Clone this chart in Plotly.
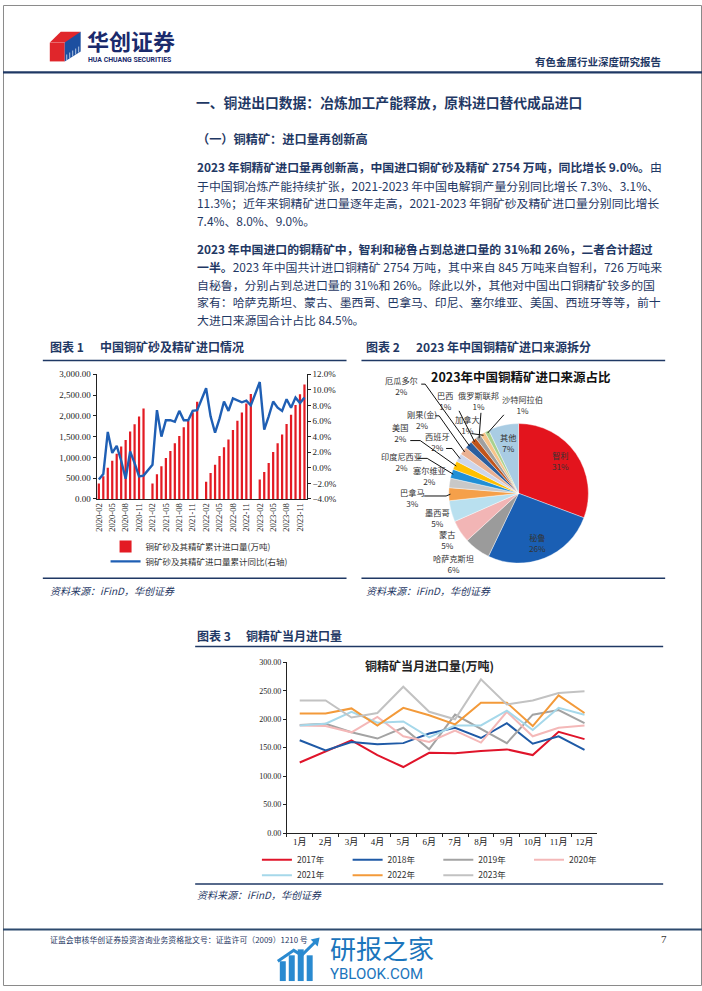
import math
import plotly.graph_objects as go

W, H = 702, 991
NAVY = "#1f3864"
CJK = "Noto Sans CJK SC"
SERIF = "Liberation Serif, Noto Sans CJK SC"

# ---------------- data: chart 1 ----------------
years1 = [2020, 2021, 2022, 2023]
cum_2020 = [370, 545, 750, 920, 1085, 1260, 1420, 1625, 1800, 1985, 2176]          # Feb..Dec
cum_2021 = [373, 595, 786, 984, 1151, 1341, 1516, 1722, 1881, 2079, 2340]
cum_2022 = [413, 627, 825, 1032, 1246, 1429, 1659, 1881, 2079, 2294, 2527]
cum_2023 = [468, 651, 865, 1127, 1341, 1548, 1802, 2024, 2262, 2516, 2754]
yoy_2020 = [-1.5, -0.8, 4.6, 1.9, 2.8, 0.9, -1.4, 2.1, 0.6, -1.1, -1.0]
yoy_2021 = [0.4, 7.4, 4.0, 6.1, 6.1, 5.9, 7.3, 6.1, 6.1, 7.3, 7.4]
yoy_2022 = [10.2, 6.6, 4.5, 6.3, 8.5, 7.3, 8.9, 8.7, 8.4, 8.6, 8.0]
yoy_2023 = [11.0, 4.9, 6.6, 8.5, 7.7, 7.3, 8.8, 7.7, 9.0, 8.3, 9.0]

months1 = []
cum_vals = []
yoy_vals = []
for yr, cv, yv in zip(years1, [cum_2020, cum_2021, cum_2022, cum_2023],
                      [yoy_2020, yoy_2021, yoy_2022, yoy_2023]):
    if yr != 2020:
        months1.append(f"{yr}-01")
        cum_vals.append(None)
        yoy_vals.append(None)
    for m in range(2, 13):
        months1.append(f"{yr}-{m:02d}")
    cum_vals.extend(cv)
    yoy_vals.extend(yv)
tick_months1 = months1[::3]

# ---------------- data: chart 2 ----------------
pie_labels = ["智利", "秘鲁", "哈萨克斯坦", "蒙古", "墨西哥", "巴拿马", "塞尔维亚", "印度尼西亚",
              "美国", "西班牙", "刚果(金)", "厄瓜多尔", "巴西", "俄罗斯联邦", "加拿大", "沙特阿拉伯", "其他"]
pie_values = [30.7, 26.4, 6.1, 5.2, 4.9, 3.0, 2.2, 2.1, 2.0, 1.9, 1.9, 1.7, 1.4, 1.3, 1.2, 1.0, 7.0]
pie_colors = ["#e3141d", "#1a5fb4", "#9b9b9b", "#f2b5b5", "#b9e0ef", "#f5a04a", "#c8c8c8", "#1f8fd6",
              "#ffc000", "#cdd6ec", "#eab092", "#2c5e9e", "#c0541c", "#a0a0a0", "#f7c48a", "#a9d18e", "#a9cce3"]

# ---------------- data: chart 3 ----------------
months3 = ["1月", "2月", "3月", "4月", "5月", "6月", "7月", "8月", "9月", "10月", "11月", "12月"]
series3_names = ["2017年", "2018年", "2019年", "2020年", "2021年", "2022年", "2023年"]
y2017 = [124, 143, 163, 137, 116, 141, 140, 144, 147, 137, 178, 165]
y2018 = [163, 145, 160, 156, 158, 175, 185, 167, 193, 157, 170, 146]
y2019 = [190, 192, 177, 166, 185, 147, 208, 183, 158, 208, 216, 193]
y2020 = [189, 188, 177, 204, 170, 160, 180, 159, 213, 170, 185, 189]
y2021 = [189, 192, 213, 194, 196, 168, 189, 189, 215, 181, 220, 208]
y2022 = [210, 210, 219, 189, 220, 207, 191, 229, 229, 188, 242, 211]
y2023 = [233, 233, 203, 211, 257, 213, 200, 270, 226, 233, 246, 249]
series3_values = [y2017, y2018, y2019, y2020, y2021, y2022, y2023]
series3_colors = ["#e0142a", "#1f5aa6", "#a3a3a3", "#f4b8b8", "#a6d8ea", "#f39a3a", "#c2c2c2"]


def P(x):
    return x / W


def Q(y):
    return 1 - y / H


fig = go.Figure()

# chart 1 traces
fig.add_trace(go.Bar(x=months1, y=cum_vals, name="铜矿砂及其精矿累计进口量(万吨)",
                     marker=dict(color="#e31b23", line=dict(width=0)), width=0.5,
                     xaxis="x", yaxis="y", legend="legend"))
fig.add_trace(go.Scatter(x=months1, y=yoy_vals, name="铜矿砂及其精矿进口量累计同比(右轴)",
                         mode="lines", line=dict(color="#1f5fb4", width=2.4), connectgaps=True,
                         xaxis="x", yaxis="y2", legend="legend4"))

# chart 2 pie
PIE_CX, PIE_CY, PIE_R = 517.8, 493.3, 70.5
fig.add_trace(go.Pie(labels=pie_labels, values=pie_values, sort=False, direction="clockwise",
                     rotation=0, marker=dict(colors=pie_colors, line=dict(color="white", width=0.4)),
                     textinfo="none", showlegend=False,
                     domain=dict(x=[P(PIE_CX - PIE_R), P(PIE_CX + PIE_R)],
                                 y=[Q(PIE_CY + PIE_R), Q(PIE_CY - PIE_R)])))

# chart 3 lines
for i, (nm, vals, col) in enumerate(zip(series3_names, series3_values, series3_colors)):
    fig.add_trace(go.Scatter(x=months3, y=vals, name=nm, mode="lines",
                             line=dict(color=col, width=2), xaxis="x3", yaxis="y3",
                             legend="legend2" if i < 4 else "legend3"))

tickfont = dict(family=SERIF, size=9, color="#222")
fig.update_layout(
    width=W, height=H, margin=dict(l=0, r=0, t=0, b=0),
    paper_bgcolor="white", plot_bgcolor="white",
    xaxis=dict(domain=[P(94), P(305)], anchor="y", type="category", categoryorder="array",
               categoryarray=months1, tickvals=tick_months1, tickangle=-90, range=[-0.5, len(months1) - 0.5],
               showline=True, linecolor="#222", linewidth=1, ticks="", showgrid=False,
               tickfont=dict(family=SERIF, size=8.5, color="#222")),
    yaxis=dict(domain=[Q(499), Q(373)], anchor="x", range=[0, 3000], dtick=500, tickformat=",.2f",
               showline=True, linecolor="#222", linewidth=1, ticks="outside", ticklen=3,
               tickcolor="#222", showgrid=False, zeroline=False, tickfont=tickfont),
    yaxis2=dict(overlaying="y", anchor="x", side="right", range=[-4, 12], dtick=2, tickformat=".1f",
                ticksuffix="%", showline=True, linecolor="#222", linewidth=1, ticks="outside", ticklen=3,
                tickcolor="#222", showgrid=False, zeroline=False, tickfont=tickfont),
    xaxis3=dict(domain=[P(285), P(597)], anchor="y3", type="category", categoryorder="array",
                categoryarray=months3, range=[-0.5, 11.5], tickson="boundaries", ticks="outside",
                ticklen=3, tickcolor="#222", showline=True, linecolor="#222", linewidth=1,
                showgrid=False, tickangle=0, tickfont=dict(family=SERIF, size=9, color="#222")),
    yaxis3=dict(domain=[Q(836.5), Q(664)], anchor="x3", range=[0, 300], dtick=50, tickformat=".2f",
                showline=True, linecolor="#222", linewidth=1, ticks="outside", ticklen=3,
                tickcolor="#222", showgrid=False, zeroline=False,
                tickfont=dict(family=SERIF, size=8, color="#222")),
    legend=dict(x=P(103), y=Q(547), xanchor="left", yanchor="middle", bgcolor="rgba(0,0,0,0)",
                font=dict(family=CJK, size=8.5, color="#333")),
    legend4=dict(x=P(103), y=Q(562), xanchor="left", yanchor="middle", bgcolor="rgba(0,0,0,0)",
                 font=dict(family=CJK, size=8.5, color="#333")),
    legend2=dict(x=P(255), y=Q(863.5), xanchor="left", yanchor="middle", orientation="h",
                 entrywidth=45.7, bgcolor="rgba(0,0,0,0)", font=dict(family=CJK, size=8.5, color="#333")),
    legend3=dict(x=P(255), y=Q(879), xanchor="left", yanchor="middle", orientation="h",
                 entrywidth=45.7, bgcolor="rgba(0,0,0,0)", font=dict(family=CJK, size=8.5, color="#333")),
)

annotations = []


def ann(x, y, text, size=12, color=NAVY, xanchor="left", family=CJK):
    annotations.append(dict(x=P(x), y=Q(y), xref="paper", yref="paper", text=text, showarrow=False,
                            xanchor=xanchor, yanchor="middle",
                            font=dict(family=family, size=size, color=color)))


# header
ann(82, 35, "<b>华创证券</b>", size=22, color="#1a2a6c")
ann(83, 55.5, "<b>HUA CHUANG SECURITIES</b>", size=6.9, color="#1a2a6c", family="Roboto")
ann(663, 57, "<b>有色金属行业深度研究报告</b>", size=10.5, color=NAVY, xanchor="right")

# section titles
ann(192, 98, "<b>一、铜进出口数据：冶炼加工产能释放，原料进口替代成品进口</b>", size=13.8)
ann(193, 135, "<b>（一）铜精矿：进口量再创新高</b>", size=12.2)

body_lines = [
    (163, "<b>2023 年铜精矿进口量再创新高，中国进口铜矿砂及精矿 2754 万吨，同比增长 9.0%。</b>由"),
    (182, "于中国铜冶炼产能持续扩张，2021-2023 年中国电解铜产量分别同比增长 7.3%、3.1%、"),
    (200, "11.3%；近年来铜精矿进口量逐年走高，2021-2023 年铜矿砂及精矿进口量分别同比增长"),
    (218, "7.4%、8.0%、9.0%。"),
    (246, "<b>2023 年中国进口的铜精矿中，智利和秘鲁占到总进口量的 31%和 26%，二者合计超过</b>"),
    (264, "<b>一半。</b>2023 年中国共计进口铜精矿 2754 万吨，其中来自 845 万吨来自智利，726 万吨来"),
    (282, "自秘鲁，分别占到总进口量的 31%和 26%。除此以外，其他对中国出口铜精矿较多的国"),
    (300, "家有：哈萨克斯坦、蒙古、墨西哥、巴拿马、印尼、塞尔维亚、美国、西班牙等等，前十"),
    (318, "大进口来源国合计占比 84.5%。"),
]
for yy, tx in body_lines:
    ann(193, yy, tx, size=11.9)

# captions
ann(45, 345, "<b>图表 1</b>", size=12)
ann(95, 345, "<b>中国铜矿砂及精矿进口情况</b>", size=12)
ann(363, 345, "<b>图表 2</b>", size=12)
ann(413, 345, "<b>2023 年中国铜精矿进口来源拆分</b>", size=12)
ann(193, 637, "<b>图表 3</b>", size=12)
ann(242, 637, "<b>铜精矿当月进口量</b>", size=12)

# sources
for sx, sy in [(45, 591), (363, 591), (193, 899)]:
    ann(sx, sy, "<i>资料来源：iFinD，华创证券</i>", size=10)

# chart titles inside charts
ann(520, 375, "<b>2023年中国铜精矿进口来源占比</b>", size=12.5, color="#111", xanchor="center")
ann(428.5, 667, "<b>铜精矿当月进口量(万吨)</b>", size=12, color="#222", xanchor="center")

# footer
ann(45, 944, "证监会审核华创证券投资咨询业务资格批文号：证监许可（2009）1210 号", size=7.9, color=NAVY)
ann(664, 944, "7", size=11, color="#333", xanchor="center", family=SERIF)
ann(326, 952, "研报之家", size=26, color="#1b75bc")
ann(326, 979, "YBLOOK.COM", size=15, color="#1b75bc", family="Roboto")

# pie labels (positions are layout, text from data)
total = sum(pie_values)
label_layout = {
    # label: (text_x, text_y, leader_start or None, stub_dx)
    "智利": (560, 460, None, 0),
    "秘鲁": (537, 543, None, 0),
    "哈萨克斯坦": (452, 564, None, 0),
    "蒙古": (446, 540, None, 0),
    "墨西哥": (436, 518, None, 0),
    "巴拿马": (411, 498, (423, 496), 22),
    "塞尔维亚": (428, 475, None, 0),
    "印度尼西亚": (400, 461, (416, 458), 10),
    "美国": (399, 432, (409, 440), 10),
    "西班牙": (436, 441, (445, 448), 6),
    "刚果(金)": (421, 419, (434, 415), 4),
    "厄瓜多尔": (400, 384, (420, 383), 4),
    "巴西": (444, 400, (458, 410), 0),
    "俄罗斯联邦": (478, 400, (480, 412), 0),
    "加拿大": (466, 424, (471, 433), 0),
    "沙特阿拉伯": (522, 404, (503, 414), 0),
    "其他": (507, 442, None, 0),
}
shapes = []
cum = 0.0
for lab, val in zip(pie_labels, pie_values):
    tx, ty, lead, stub = label_layout[lab]
    pct = round(val / total * 100)
    ann(tx, ty, f"{lab}<br>{pct}%", size=8.2, color="#333", xanchor="center")
    mid = (cum + val / 2) / total * 2 * math.pi
    cum += val
    if lead is not None:
        ex = PIE_CX + PIE_R * 0.97 * math.sin(mid)
        ey = PIE_CY - PIE_R * 0.97 * math.cos(mid)
        sx, sy = lead
        pts = [(sx, sy)]
        if stub:
            pts.append((sx + stub, sy))
        pts.append((ex, ey))
        path = "M" + " L".join(f"{P(a):.5f},{Q(b):.5f}" for a, b in pts)
        shapes.append(dict(type="path", xref="paper", yref="paper", path=path,
                           line=dict(color="#111", width=1)))


def hline(x0, x1, y, color=NAVY, width=1.5):
    shapes.append(dict(type="line", xref="paper", yref="paper", x0=P(x0), x1=P(x1), y0=Q(y), y1=Q(y),
                       line=dict(color=color, width=width)))


def poly(pts, color):
    path = "M" + " L".join(f"{P(a):.5f},{Q(b):.5f}" for a, b in pts) + " Z"
    shapes.append(dict(type="path", xref="paper", yref="paper", path=path, fillcolor=color,
                       line=dict(width=0)))


# page frame
shapes.append(dict(type="rect", xref="paper", yref="paper", x0=P(0.5), x1=P(701.5), y0=Q(990.5), y1=Q(0.5),
                   line=dict(color="#8a8a8a", width=1)))
hline(0, 702, 68, color="#1f3864", width=2.2)
hline(40, 345, 359)
hline(360, 665, 359)
hline(40, 345, 579)
hline(360, 665, 579)
hline(193, 663, 648)
hline(193, 663, 888)
hline(0, 702, 934, color="#2d4a6e", width=2)

# logo cube
poly([(47, 38), (58, 27), (78, 27), (67, 38)], "#e0262b")
poly([(47, 38), (62, 38), (62, 57), (47, 57)], "#e0262b")
poly([(62, 38), (78, 27), (78, 47), (62, 57)], "#1c4fa0")
for k in range(5):
    shapes.append(dict(type="line", xref="paper", yref="paper",
                       x0=P(64 + 3 * k), y0=Q(50 - 2 * k), x1=P(64 + 3 * k), y1=Q(56 - 2 * k),
                       line=dict(color="#d8e2f2", width=0.8)))

# watermark icon
for bx, btop in [(278, 966), (287, 960), (296, 954), (305, 960)]:
    poly([(bx, btop), (bx + 6, btop), (bx + 6, 986), (bx, 986)], "#2a8ad0")
shapes.append(dict(type="path", xref="paper", yref="paper",
                   path=f"M{P(276):.5f},{Q(966):.5f} L{P(292):.5f},{Q(955):.5f} L{P(300):.5f},{Q(960):.5f} L{P(315):.5f},{Q(945):.5f}",
                   line=dict(color="#2a8ad0", width=3)))
poly([(309, 944), (318, 942), (316, 951)], "#2a8ad0")

fig.update_layout(annotations=annotations, shapes=shapes)
fig.write_html("out.html")
